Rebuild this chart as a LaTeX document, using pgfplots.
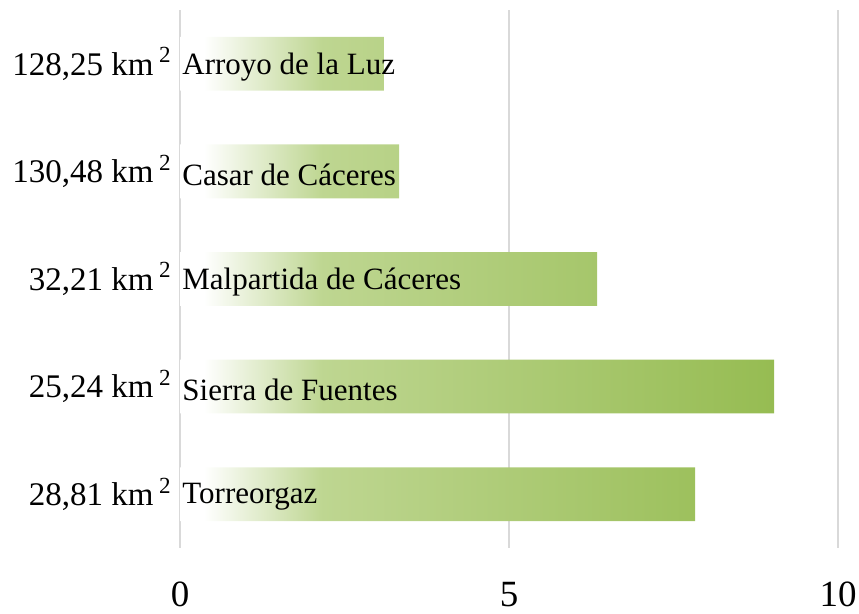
\documentclass[border=0pt]{standalone}
\usepackage{fontspec}
\setmainfont{Liberation Serif}
\usepackage{pgfplots}
\pgfplotsset{compat=1.18}

\definecolor{gA}{RGB}{190,214,145}
\definecolor{gB}{RGB}{150,188,82}
% bar path maps onto 25bp..75bp of the shading
\pgfdeclarehorizontalshading{bargrad}{100bp}{color(0bp)=(white); color(25bp)=(white); color(27bp)=(white); color(37bp)=(gA); color(75bp)=(gB); color(100bp)=(gB)}

\begin{document}
\begin{tikzpicture}
\begin{axis}[
    scale only axis,
    width=329pt, height=269pt,
    xmin=0, xmax=10, ymin=0.5, ymax=5.5,
    xtick={0,5,10},
    ytick={1,2,3,4,5},
    yticklabels={{28,81 km\,\textsuperscript{2}},{25,24 km\,\textsuperscript{2}},{32,21 km\,\textsuperscript{2}},{130,48 km\,\textsuperscript{2}},{128,25 km\,\textsuperscript{2}}},
    axis line style={draw=none},
    major tick style={draw=none},
    xmajorgrids,
    grid style={draw=black!15, line width=0.6pt},
    /pgf/number format/assume math mode=true,
    xticklabel style={font=\fontsize{18.5}{18.5}\selectfont, yshift=-13.5pt},
    yticklabel style={font=\fontsize{16.5}{16.5}\selectfont, inner sep=0pt, xshift=-4pt},
    clip=false,
]
% bars
\addplot[xbar, bar width=0.5, draw=none, shading=bargrad] coordinates {
    (3.10,5) (3.33,4) (6.34,3) (9.03,2) (7.83,1)
};
% municipality names at the start of each bar
\addplot[draw=none, mark=none, nodes near coords, point meta=explicit symbolic,
    every node near coord/.style={anchor=west, inner sep=1pt, yshift=-1.5pt, font=\fontsize{15.5}{15.5}\selectfont}]
    coordinates {
    (0,5) [Arroyo de la Luz]
    (0,4) [Casar de Cáceres]
    (0,3) [Malpartida de Cáceres]
    (0,2) [Sierra de Fuentes]
    (0,1) [Torreorgaz]
};
\coordinate (bl) at (rel axis cs:-0.2736,-0.1227);
\coordinate (tr) at (rel axis cs:1.0319,1.0186);
\end{axis}
\pgfresetboundingbox
\path[use as bounding box] (bl) rectangle (tr);
\end{tikzpicture}
\end{document}
